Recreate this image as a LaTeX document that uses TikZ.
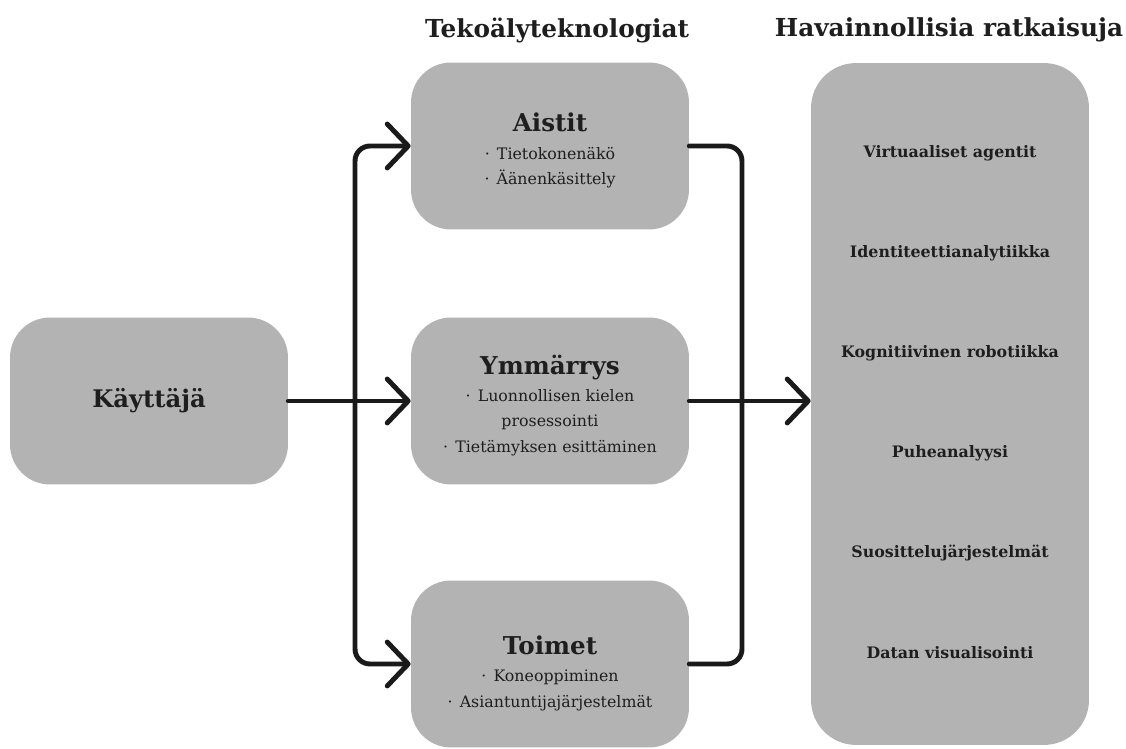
\documentclass[tikz,border=0pt]{standalone}
\usepackage{fontspec}
\setmainfont{DejaVu Serif}
\usepackage{tikz}
\usetikzlibrary{arrows.meta, positioning}

\definecolor{laatikkoharmaa}{HTML}{B3B3B3}
\definecolor{tekstimusta}{HTML}{1E1E1E}
\definecolor{viivamusta}{HTML}{1A1A1A}

\newcommand{\laatikkootsikko}[2][16pt]{{\fontsize{14}{16}\selectfont\bfseries\rule{0pt}{#1}#2}}
\newcommand{\luettelomerkki}{{·}\hspace{0.45em}}

\begin{document}
\begin{tikzpicture}[x=0.02cm, y=-0.02cm,
		laatikko/.style={fill=laatikkoharmaa, rounded corners=0.8cm, minimum width=5.56cm, minimum height=3.34cm, align=center, text=tekstimusta, inner sep=0pt, font=\fontsize{9}{14.5}\selectfont},
		otsikko/.style={text=tekstimusta, font=\fontsize{14.1}{16}\selectfont\bfseries},
		kohta/.style={text=tekstimusta, font=\fontsize{9}{11}\selectfont\bfseries},
		viiva/.style={line width=2.8pt, draw=viivamusta, rounded corners=0.3cm, line cap=round},
		nuoli/.style={-{Straight Barb[length=4.2mm, width=8.8mm, line cap=round, line join=round]}}]
	\useasboundingbox (0,0) rectangle (1126,749);

	% otsikot
	\node[otsikko] (tekootsikko) at (557,30) {Tekoälyteknologiat};
	\node[otsikko] (ratkotsikko) at (949,30) {Havainnollisia ratkaisuja};

	% laatikot
	\node[laatikko] (kayttaja) at (149,401) {\fontsize{13.8}{16}\selectfont\bfseries Käyttäjä};
	\node[laatikko] (aistit) at (550,146) {\laatikkootsikko{Aistit}\\[1pt] \luettelomerkki Tietokonenäkö\\ \luettelomerkki Äänenkäsittely};
	\node[laatikko] (ymmarrys) at (550,401) {\laatikkootsikko{Ymmärrys}\\[1pt] \luettelomerkki Luonnollisen kielen\\ prosessointi\\ \luettelomerkki Tietämyksen esittäminen};
	\node[laatikko] (toimet) at (550,664) {\laatikkootsikko[21pt]{Toimet}\\[1pt] \luettelomerkki Koneoppiminen\\ \luettelomerkki Asiantuntijajärjestelmät};
	\node[laatikko, rounded corners=0.9cm, minimum height=13.64cm] (ratkaisut) at (950,404) {};

	\foreach \teksti [count=\i] in {Virtuaaliset agentit, Identiteettianalytiikka, Kognitiivinen robotiikka, Puheanalyysi, Suosittelujärjestelmät, Datan visualisointi}
	{
		\node[kohta] (kohta\i) at (950,53+100*\i) {\teksti};
	}

	% yhdysviivat
	\coordinate (jako) at (355,401);
	\coordinate (yhdys) at (742,401);

	\begin{scope}[viiva, nuoli]
		\draw (kayttaja.east) -- (ymmarrys.west);
		\draw (jako) |- (aistit.west);
		\draw (jako) |- (toimet.west);
		\draw (ymmarrys.east) -- (ymmarrys.east -| ratkaisut.west);
	\end{scope}

	\begin{scope}[viiva]
		\draw (aistit.east) -| (yhdys) |- (toimet.east);
	\end{scope}
\end{tikzpicture}
\end{document}
